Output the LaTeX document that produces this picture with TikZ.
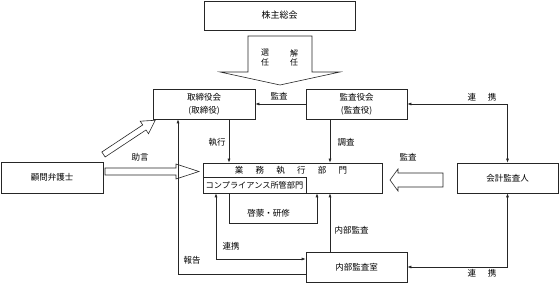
\documentclass[tikz,border=0pt]{standalone}
\usepackage{fontspec}
\setmainfont{Noto Sans CJK JP}
\usetikzlibrary{arrows.meta,calc}
\begin{document}
\begin{tikzpicture}[x=1pt,y=-1pt,
  box/.style={draw=black!85, line width=0.6pt, rectangle, inner sep=0pt, align=center, font=\fontsize{8.5}{13}\selectfont},
  lbl/.style={inner sep=0pt, font=\fontsize{8.5}{10}\selectfont},
  conn/.style={draw=black!85, line width=0.6pt},
  tip/.style={-{Latex[length=4pt,width=3pt]}},
  tips/.style={{Latex[length=4pt,width=3pt]}-{Latex[length=4pt,width=3pt]}},
  fat/.style={draw=black!85, line width=0.6pt, fill=white, line join=miter}]
\useasboundingbox (0,0) rectangle (560,283);

% boxes
\node[box, minimum width=151pt, minimum height=29pt, font=\fontsize{9}{10}\selectfont] (kabu) at (279.5,15.5) {株主総会};
\node[box, minimum width=102pt, minimum height=30pt] (tori) at (204,104) {取締役会\\(取締役)};
\node[box, minimum width=101pt, minimum height=30pt] (kansa) at (356.5,104) {監査役会\\(監査役)};
\node[box, minimum width=102pt, minimum height=31pt] (komon) at (52,177.5) {顧問弁護士};
\node[box, minimum width=179pt, minimum height=30pt] (gyomu) at (292.5,178) {};
\node[box, minimum width=103pt, minimum height=16pt, font=\fontsize{8.2}{10}\selectfont] (comp) at (254.5,185) {コンプライアンス所管部門};
\node[box, minimum width=101pt, minimum height=30pt] (naibu) at (356.5,267) {内部監査室};
\node[box, minimum width=101pt, minimum height=30pt] (kaikei) at (507.5,178) {会計監査人};

\node[lbl] (gyomut) at (291,170.5) {業\hspace{12.3pt}務\hspace{12.3pt}執\hspace{12.3pt}行\hspace{12.3pt}部\hspace{12.3pt}門};

% big arrows
\draw[fat] (248,36) -- (312,36) -- (312,72) -- (340,72) -- (280,85) -- (220,72) -- (248,72) -- cycle;
\node[lbl, font=\fontsize{8}{9}\selectfont] (sen) at (265,53) {選};
\node[lbl, font=\fontsize{8}{9}\selectfont] (nin1) at (265,62) {任};
\node[lbl, font=\fontsize{8}{9}\selectfont] (kai) at (294,53) {解};
\node[lbl, font=\fontsize{8}{9}\selectfont] (nin2) at (294,62) {任};

\draw[fat] (105,168) -- (176,168) -- (176,164) -- (199,171.5) -- (176,179) -- (176,175) -- (105,175) -- cycle;
\begin{scope}[shift={(103.5,154.5)}, rotate=33.5]
\draw[fat] (0,-3) -- (49,-3) -- (49,-7.5) -- (62,0) -- (49,7.5) -- (49,3) -- (0,3) -- cycle;
\end{scope}
\draw[fat] (443,173) -- (398,173) -- (398,169) -- (390,180) -- (398,191) -- (398,187) -- (443,187) -- cycle;

% coordinates
\coordinate (xa) at (229,0);
\coordinate (xb) at (330,0);
\coordinate (hokoku) at (178,274);
\coordinate (renkei) at (216,259);
\coordinate (k1) at (229,223);
\coordinate (k2) at (317,223);

% connectors
\draw[conn, tip] (kansa.west) -- (tori.east);
\draw[conn, tips] (kansa.east) -- (kansa.east -| kaikei.north) -- (kaikei.north);
\draw[conn, tips] (kaikei.south) -- (kaikei.south |- naibu.east) -- (naibu.east);
\draw[conn, tip] (tori.south -| xa) -- (gyomu.north -| xa);
\draw[conn, tip] (kansa.south -| xb) -- (gyomu.north -| xb);
\draw[conn, tip] (naibu.west |- hokoku) -- (hokoku) -- (tori.south -| hokoku);
\draw[conn, tips] (comp.south -| renkei) -- (renkei) -- (naibu.west |- renkei);
\draw[conn, tip] (comp.south -| k1) -- (k1) -- (k2) -- (gyomu.south -| k2);
\draw[conn, tip] (naibu.north -| xb) -- (gyomu.south -| xb);

% labels
\node[lbl] (l1) at (279,96) {監査};
\node[lbl] (l2) at (217,142) {執行};
\node[lbl] (l3) at (346,142) {調査};
\node[lbl] (l4) at (140,157) {助言};
\node[lbl] (l5) at (408,157) {監査};
\node[lbl] (l6) at (268.5,213.5) {啓蒙・研修};
\node[lbl] (l7) at (351.5,230) {内部監査};
\node[lbl] (l8) at (231,246.5) {連携};
\node[lbl] (l9) at (192,260) {報告};
\node[lbl] (l10) at (482,97) {連\hspace{12pt}携};
\node[lbl] (l11) at (482,273) {連\hspace{12pt}携};
\end{tikzpicture}
\end{document}
